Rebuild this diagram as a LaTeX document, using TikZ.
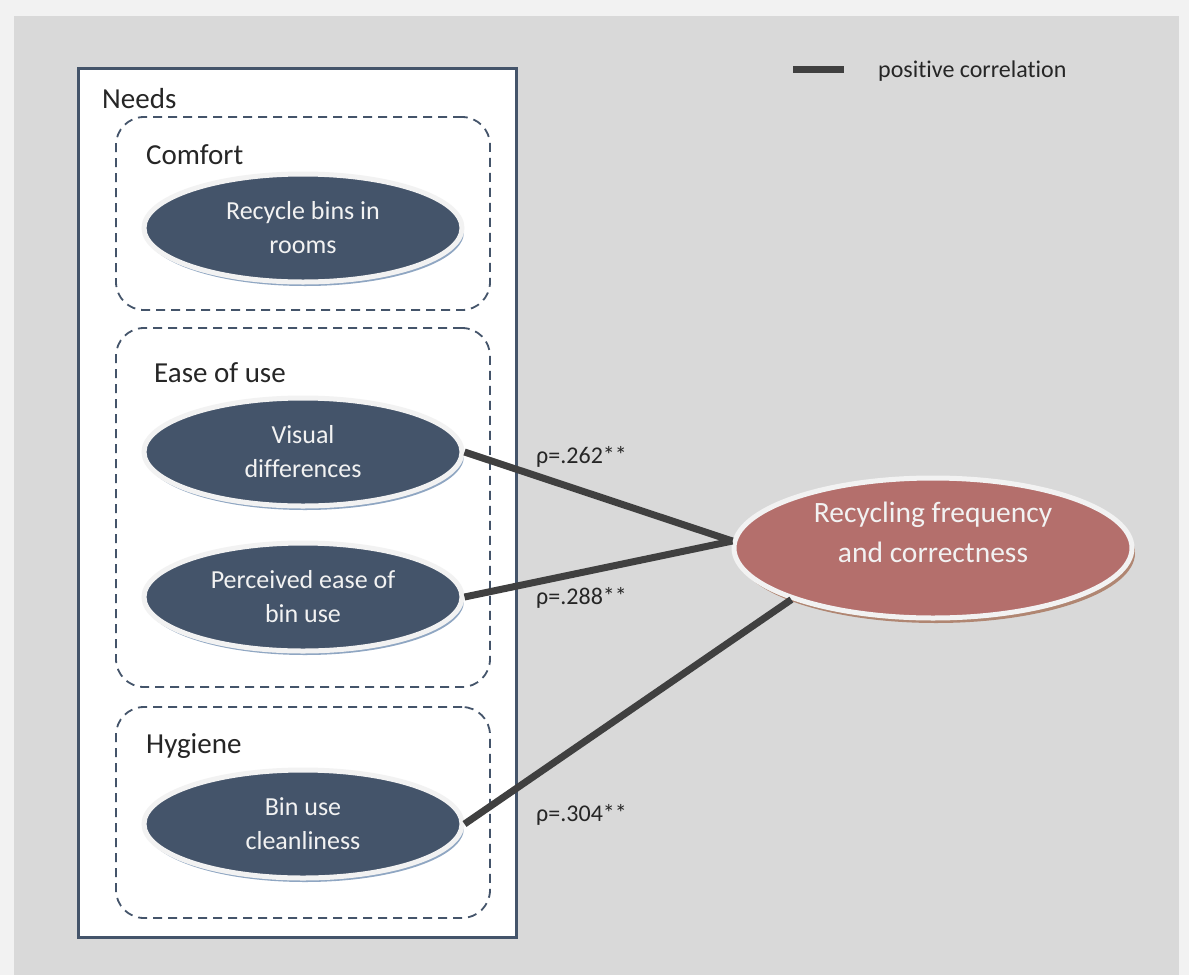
\documentclass[tikz,border=0pt]{standalone}
\usepackage{fontspec}
\setmainfont{Carlito}[Ligatures=CommonOff]
\usetikzlibrary{shapes.geometric,shadows,positioning}
\definecolor{pagegray}{HTML}{D9D9D9}
\definecolor{rimgray}{HTML}{F2F2F2}
\definecolor{slate}{HTML}{44546A}
\definecolor{slateshadow}{HTML}{8FA6C2}
\definecolor{rosered}{HTML}{B46F6C}
\definecolor{roseshadow}{HTML}{B08672}
\definecolor{corrgray}{HTML}{404040}
\tikzstyle{need}=[
  ellipse, draw=rimgray, line width=5pt, fill=slate,
  minimum width=318pt, minimum height=108pt, inner sep=0pt,
  text=rimgray, align=center,
  font=\fontsize{26}{34}\selectfont,
  drop shadow={shadow xshift=2pt, shadow yshift=-4pt,
    fill=slateshadow, opacity=1}
]
\tikzstyle{outcome}=[
  ellipse, draw=rimgray, line width=5pt, fill=rosered,
  minimum width=398pt, minimum height=140pt, inner sep=0pt,
  drop shadow={shadow xshift=3pt, shadow yshift=-5pt,
    fill=roseshadow, opacity=1}
]
\tikzstyle{outcometext}=[
  inner sep=0pt, text=rimgray, align=center,
  font=\fontsize{29.5}{40}\selectfont
]
\tikzstyle{group}=[
  draw=slate, line width=1.8pt, dash pattern=on 9pt off 6pt,
  rounded corners=28pt, inner sep=0pt
]
\tikzstyle{heading}=[anchor=west, inner sep=0pt, text=black!85,
  font=\fontsize{29}{34}\selectfont]
\begin{document}
\begin{tikzpicture}[x=1pt, y=-1pt,
    corr/.style={draw=corrgray, line width=7pt},
    rho/.style={anchor=west, inner sep=0pt, text=black!85,
      font=\fontsize{24}{28}\selectfont}]
  % page and background
  \fill[rimgray] (0,0) rectangle (1189,975);
  \fill[pagegray] (14,16) rectangle (1179,975);
  \useasboundingbox (0,0) rectangle (1189,975);
  % needs frame
  \node[draw=slate, line width=3pt, fill=white, inner sep=0pt,
    minimum width=438pt, minimum height=869pt] (needs) at (297.5,502.5) {};
  \node[heading] (needslbl) at (102,99) {Needs};
  % groups
  \node[group, minimum width=374pt, minimum height=193pt] (comfort) at (303,213.5) {};
  \node[heading] (comfortlbl) at (146,155) {Comfort};
  \node[group, minimum width=374pt, minimum height=359pt] (ease) at (303,507.5) {};
  \node[heading] (easelbl) at (154,373) {Ease of use};
  \node[group, minimum width=374pt, minimum height=211pt] (hygiene) at (303,812.5) {};
  \node[heading] (hygienelbl) at (146,746) {Hygiene};
  % needs ellipses
  \node[need] (rooms) at (303,228) {Recycle bins in\\rooms};
  \node[need] (visual) at (303,452) {Visual\\differences};
  \node[need] (ease use) at (303,597) {Perceived ease of\\bin use};
  \node[need] (clean) at (303,824) {Bin use\\cleanliness};
  % outcome
  \node[outcome] (recycling) at (933,548) {};
  \node[outcometext] (recyclinglbl) at ([yshift=16pt]recycling.center)
    {Recycling frequency\\and correctness};
  % correlations
  \draw[corr] (visual.east) -- (recycling.178);
  \draw[corr] (ease use.east) -- (recycling.178);
  \draw[corr] (clean.east) -- (recycling.200);
  \node[rho] (rho1) at (536,457) {ρ=.262**};
  \node[rho] (rho2) at (536,598) {ρ=.288**};
  \node[rho] (rho3) at (536,815) {ρ=.304**};
  % legend
  \coordinate (legstart) at (793,69);
  \coordinate (legend) at (844,69);
  \draw[corr] (legstart) -- (legend);
  \node[rho] (legtext) at (878,71) {positive correlation};
\end{tikzpicture}
\end{document}
